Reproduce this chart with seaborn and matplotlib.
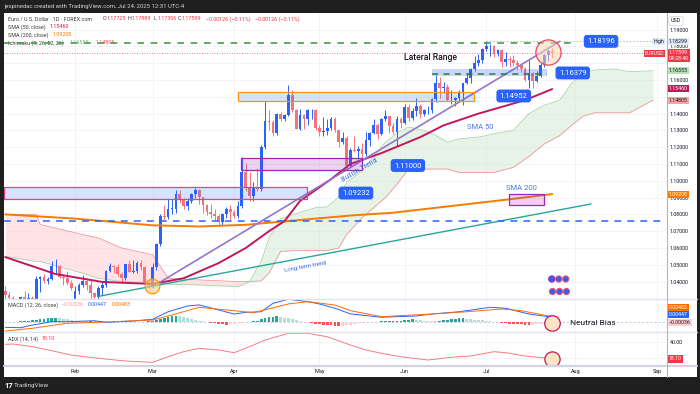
import numpy as np
import pandas as pd
import seaborn as sns
import matplotlib.pyplot as plt
from matplotlib.lines import Line2D
from matplotlib.patches import Rectangle

sns.set_theme(style="white")
plt.rcParams["font.family"] = ["Roboto", "DejaVu Sans"]

W, H = 700, 394

# EUR/USD daily candles, 2025-01-08 .. 2025-07-24 (weekdays)
opens = [1.0345, 1.0318, 1.0300, 1.0244, 1.0245, 1.0306, 1.0292, 1.0300, 1.0272, 1.0415, 1.0428, 1.0406, 1.0417, 1.0493, 1.0495, 1.0430, 1.0422, 1.0390,
         1.0245, 1.0345, 1.0379, 1.0403, 1.0380, 1.0330, 1.0307, 1.0362, 1.0378, 1.0466, 1.0492, 1.0484, 1.0446, 1.0421, 1.0503, 1.0459, 1.0465, 1.0513, 1.0485, 1.0398,
         1.0375, 1.0485, 1.0625, 1.0790, 1.0785, 1.0834, 1.0834, 1.0920, 1.0888, 1.0852, 1.0880, 1.0922, 1.0943, 1.0903, 1.0855, 1.0816, 1.0801, 1.0790, 1.0753, 1.0800, 1.0830,
         1.0815, 1.0792, 1.0852, 1.1050, 1.0960, 1.0910, 1.0957, 1.0950, 1.1200, 1.1356, 1.1348, 1.1285, 1.1400, 1.1370, 1.1390, 1.1510, 1.1420, 1.1310, 1.1390, 1.1365, 1.1420, 1.1422,
         1.1313, 1.1290, 1.1295, 1.1315, 1.1370, 1.1300, 1.1230, 1.1253, 1.1090, 1.1185, 1.1175, 1.1187, 1.1160, 1.1240, 1.1285, 1.1330, 1.1280, 1.1365, 1.1385, 1.1325, 1.1290, 1.1370,
         1.1347, 1.1440, 1.1372, 1.1418, 1.1445, 1.1397, 1.1420, 1.1423, 1.1485, 1.1585, 1.1550, 1.1560, 1.1480, 1.1480, 1.1490, 1.1522, 1.1580, 1.1610, 1.1665, 1.1700, 1.1718,
         1.1787, 1.1800, 1.1800, 1.1755, 1.1780, 1.1710, 1.1725, 1.1720, 1.1700, 1.1690, 1.1665, 1.1600, 1.1640, 1.1595, 1.1625, 1.1690, 1.1750, 1.17725]
highs = [1.0375, 1.0340, 1.0315, 1.0255, 1.0310, 1.0345, 1.0330, 1.0315, 1.0435, 1.0432, 1.0445, 1.0430, 1.0520, 1.0533, 1.0500, 1.0445, 1.0465, 1.0410,
         1.0375, 1.0390, 1.0442, 1.0410, 1.0410, 1.0335, 1.0375, 1.0400, 1.0470, 1.0513, 1.0500, 1.0505, 1.0460, 1.0506, 1.0528, 1.0528, 1.0520, 1.0530, 1.0490, 1.0410,
         1.0510, 1.0630, 1.0805, 1.0855, 1.0890, 1.0890, 1.0945, 1.0945, 1.0900, 1.0900, 1.0925, 1.0955, 1.0950, 1.0905, 1.0860, 1.0860, 1.0830, 1.0805, 1.0810, 1.0845, 1.0858,
         1.0825, 1.0880, 1.1144, 1.1107, 1.1050, 1.0990, 1.1075, 1.1215, 1.1475, 1.1420, 1.1360, 1.1405, 1.1410, 1.1395, 1.1573, 1.1540, 1.1425, 1.1425, 1.1395, 1.1425, 1.1425, 1.1425,
         1.1335, 1.1380, 1.1365, 1.1380, 1.1380, 1.1305, 1.1290, 1.1265, 1.1195, 1.1265, 1.1210, 1.1225, 1.1290, 1.1290, 1.1365, 1.1345, 1.1375, 1.1420, 1.1385, 1.1345, 1.1385, 1.1380,
         1.1455, 1.1455, 1.1435, 1.1495, 1.1455, 1.1430, 1.1445, 1.1495, 1.1630, 1.1615, 1.1590, 1.1575, 1.1540, 1.1500, 1.1540, 1.1585, 1.1640, 1.1670, 1.1745, 1.1755, 1.1790,
         1.1830, 1.1815, 1.1810, 1.1785, 1.1785, 1.1765, 1.1745, 1.1750, 1.1720, 1.1695, 1.1680, 1.1720, 1.1645, 1.1655, 1.1700, 1.1755, 1.1785, 1.17889]
lows = [1.0290, 1.0290, 1.0215, 1.0177, 1.0220, 1.0260, 1.0270, 1.0265, 1.0265, 1.0340, 1.0390, 1.0385, 1.0410, 1.0445, 1.0420, 1.0380, 1.0380, 1.0350,
        1.0141, 1.0325, 1.0365, 1.0350, 1.0285, 1.0285, 1.0280, 1.0320, 1.0365, 1.0455, 1.0450, 1.0435, 1.0400, 1.0410, 1.0455, 1.0450, 1.0450, 1.0470, 1.0390, 1.0360,
        1.0360, 1.0470, 1.0610, 1.0765, 1.0770, 1.0800, 1.0810, 1.0870, 1.0830, 1.0825, 1.0865, 1.0900, 1.0860, 1.0810, 1.0795, 1.0780, 1.0765, 1.0735, 1.0735, 1.0780, 1.0765,
        1.0780, 1.0780, 1.0840, 1.0940, 1.0880, 1.0880, 1.0940, 1.0940, 1.1190, 1.1300, 1.1265, 1.1270, 1.1355, 1.1355, 1.1385, 1.1410, 1.1310, 1.1305, 1.1310, 1.1330, 1.1370, 1.1300,
        1.1265, 1.1265, 1.1275, 1.1300, 1.1290, 1.1200, 1.1220, 1.1065, 1.1080, 1.1170, 1.1130, 1.1130, 1.1150, 1.1210, 1.1280, 1.1250, 1.1270, 1.1355, 1.1285, 1.1280, 1.1210, 1.1315,
        1.1340, 1.1355, 1.1360, 1.1385, 1.1375, 1.1385, 1.1395, 1.1405, 1.1470, 1.1490, 1.1525, 1.1475, 1.1460, 1.1445, 1.1470, 1.1450, 1.1575, 1.1585, 1.1655, 1.1685, 1.1700,
        1.1770, 1.1745, 1.1735, 1.1745, 1.1680, 1.1685, 1.1680, 1.1685, 1.1660, 1.1650, 1.1595, 1.1555, 1.1555, 1.1590, 1.1615, 1.1680, 1.1715, 1.17306]
closes = [1.0318, 1.0300, 1.0244, 1.0245, 1.0306, 1.0292, 1.0300, 1.0272, 1.0415, 1.0428, 1.0406, 1.0417, 1.0493, 1.0495, 1.0430, 1.0422, 1.0390, 1.0362,
          1.0345, 1.0379, 1.0403, 1.0380, 1.0330, 1.0307, 1.0362, 1.0378, 1.0466, 1.0492, 1.0484, 1.0446, 1.0421, 1.0503, 1.0459, 1.0465, 1.0513, 1.0485, 1.0398, 1.0375,
          1.0485, 1.0625, 1.0790, 1.0785, 1.0834, 1.0834, 1.0920, 1.0888, 1.0852, 1.0880, 1.0922, 1.0943, 1.0903, 1.0855, 1.0816, 1.0801, 1.0790, 1.0753, 1.0800, 1.0830, 1.0815,
          1.0792, 1.0852, 1.1050, 1.0960, 1.0910, 1.0957, 1.0950, 1.1200, 1.1356, 1.1348, 1.1285, 1.1400, 1.1370, 1.1390, 1.1510, 1.1420, 1.1310, 1.1390, 1.1365, 1.1420, 1.1422, 1.1313,
          1.1290, 1.1295, 1.1315, 1.1370, 1.1300, 1.1230, 1.1253, 1.1090, 1.1185, 1.1175, 1.1187, 1.1160, 1.1240, 1.1285, 1.1330, 1.1280, 1.1365, 1.1385, 1.1325, 1.1290, 1.1370, 1.1347,
          1.1440, 1.1372, 1.1418, 1.1445, 1.1397, 1.1420, 1.1423, 1.1485, 1.1585, 1.1550, 1.1560, 1.1480, 1.1480, 1.1490, 1.1522, 1.1580, 1.1610, 1.1665, 1.1700, 1.1718, 1.1787,
          1.1800, 1.1800, 1.1755, 1.1780, 1.1710, 1.1725, 1.1720, 1.1700, 1.1690, 1.1665, 1.1600, 1.1640, 1.1595, 1.1625, 1.1690, 1.1750, 1.1770, 1.17599]

# price axis ticks (1.15 and 1.17 sit under the colored tags)
price_ticks = [1.04, 1.05, 1.06, 1.07, 1.08, 1.09, 1.10, 1.11, 1.12, 1.13, 1.14, 1.15, 1.16, 1.17, 1.18, 1.19]
price_labels = ["1.04000", "1.05000", "1.06000", "1.07000", "1.08000", "1.09000", "1.10000", "1.11000", "1.12000",
                "1.13000", "1.14000", "", "1.16000", "", "1.18000", "1.19000"]

# moving averages (bar index, value)
sma50_idx = [0, 13, 25, 38, 46, 55, 62, 68, 72, 76, 84, 89, 97, 107, 113, 122, 134, 141]
sma50 = [1.0546, 1.0445, 1.0398, 1.0386, 1.0420, 1.0510, 1.0600, 1.0700, 1.0760, 1.0880, 1.1010, 1.1100, 1.1165, 1.1260, 1.1330, 1.1400, 1.1480, 1.1546]
sma200_idx = [0, 18, 38, 50, 62, 80, 90, 100, 115, 130, 141]
sma200 = [1.0800, 1.0775, 1.0735, 1.0728, 1.0738, 1.0775, 1.0795, 1.0810, 1.0850, 1.0890, 1.0921]

# ichimoku cloud (displaced 26 bars forward)
cloud_idx = [0, 8, 9, 20, 24, 30, 38, 42, 50, 60, 63, 66, 68, 71, 75, 80, 83, 86, 88, 92, 98, 101, 104, 108,
             111, 114, 117, 122, 126, 131, 135, 139, 143, 146, 149, 152, 157, 161, 167]
span_a = [1.0550, 1.0520, 1.0520, 1.0450, 1.0420, 1.0400, 1.0395, 1.0385, 1.0380, 1.0370, 1.0400, 1.0520, 1.0660,
          1.0775, 1.0805, 1.0840, 1.0845, 1.0905, 1.0990, 1.1060, 1.1230, 1.1285, 1.1320, 1.1300, 1.1270, 1.1230,
          1.1250, 1.1260, 1.1280, 1.1300, 1.1400, 1.1450, 1.1480, 1.1580, 1.1640, 1.1660, 1.1665, 1.1650, 1.1655]
span_b = [1.0800, 1.0800, 1.0740, 1.0680, 1.0660, 1.0600, 1.0560, 1.0420, 1.0410, 1.0400, 1.0400, 1.0405, 1.0450,
          1.0580, 1.0585, 1.0585, 1.0585, 1.0600, 1.0680, 1.0780, 1.0900, 1.0980, 1.1070, 1.1070, 1.1070, 1.1070,
          1.1050, 1.1050, 1.1050, 1.1080, 1.1145, 1.1220, 1.1270, 1.1330, 1.1385, 1.1405, 1.1405, 1.1405, 1.1480]

# MACD (12, 26) panel
macd_idx = [0, 4, 7, 12, 16, 23, 26, 33, 38, 42, 47, 50, 55, 59, 62, 66, 69, 73, 78, 81, 85, 89, 97, 106, 110, 117, 125, 129, 135, 140, 141]
macd_line = [-0.0047, -0.0050, -0.0028, 0.0000, 0.0000, 0.0008, -0.0005, 0.0006, 0.0020, 0.0083, 0.0131, 0.0140, 0.0098, 0.0064, 0.0078,
             0.0083, 0.0153, 0.0187, 0.0167, 0.0148, 0.0112, 0.0065, 0.0037, 0.0048, 0.0064, 0.0083, 0.0120, 0.0112, 0.0064, 0.0042, 0.00447]
signal_idx = [0, 7, 16, 24, 38, 43, 50, 57, 64, 73, 78, 85, 89, 97, 110, 119, 128, 133, 140, 141]
signal_line = [-0.0078, -0.0055, -0.0013, -0.0005, 0.0014, 0.0056, 0.0120, 0.0098, 0.0075, 0.0148, 0.0167, 0.0139, 0.0092, 0.0042,
               0.0064, 0.0083, 0.0106, 0.0092, 0.0048, 0.00483]
macd_hist = [-2, -3, -2, -1,
             2, 5, 8, 12, 15, 20, 25, 28, 30,
             32, 30, 26, 20, 15,
             10, 8, 6, 5, 6, 4, 3, 2,
             -2, -3, -2, 1, 3, 4, 2, -1, -3, -4, -2, 2,
             8, 15, 25, 35, 42, 48, 50, 45, 40, 30, 25,
             18, 10, 5, -3, -8, -10,
             -15, -20, -25, -22, -18, -12, -8, -5,
             -2, 3, 10, 20, 30,
             38, 42, 45, 40, 35, 30, 25, 15, 8,
             0, -5, -10, -15, -20, -25, -28,
             -31, -34, -36, -35, -30, -24, -18,
             -12, -8, -5, -3, -1, 1, 2, 3, 4,
             5, 6, 8, 12, 16, 20, 18, 14, 10, 8, 6, 5, 8,
             12, 16, 20, 24, 27, 28, 26, 22, 18, 15, 12, 8,
             4, 0, -4, -8, -12, -15, -18, -20,
             -22, -25, -26, -25, -22, -18, -12, -7, -4]  # x 1e-4

# ADX (14, 14)
adx_idx = [0, 2, 7, 12, 17, 24, 31, 38, 42, 46, 50, 55, 59, 63, 67, 73, 78, 83, 89, 93, 97, 102, 109, 115, 120, 126, 129, 134, 140, 141]
adx = [37.0, 37.4, 34.0, 28.8, 23.2, 19.0, 15.5, 13.8, 21.0, 27.5, 31.9, 29.7, 26.2, 34.0, 42.6, 51.2, 51.2, 46.8, 36.1, 29.7,
       25.4, 21.0, 16.8, 20.3, 22.0, 27.5, 26.2, 22.0, 19.0, 18.1]

UP, DOWN = "#2962ff", "#f6717a"
GRID = "#f0f3fa"


def fx(x):
    return x / W


def fy(y):
    return 1 - y / H


fig = plt.figure(figsize=(7, 3.94), dpi=100, facecolor="#1f1f1f")
fig.patches.append(Rectangle((fx(4), fy(377)), fx(697) - fx(4), fy(13) - fy(377),
                             transform=fig.transFigure, fc="white", ec="none", zorder=-1))

ax = fig.add_axes([fx(4), fy(299), fx(666) - fx(4), (299 - 13) / H])
ax_m = fig.add_axes([fx(4), fy(332), fx(666) - fx(4), (332 - 299) / H], sharex=ax)
ax_a = fig.add_axes([fx(4), fy(365), fx(666) - fx(4), (365 - 332) / H], sharex=ax)

dates = pd.bdate_range("2025-01-08", periods=172)
month_pos = [i for i in range(1, len(dates)) if dates[i].month != dates[i - 1].month]
month_lab = [dates[i].strftime("%b") for i in month_pos]

for a in (ax, ax_m, ax_a):
    a.set_facecolor("white")
    for s in a.spines.values():
        s.set_visible(False)
    a.set_xticks(month_pos)
    a.grid(True, color=GRID, lw=0.6)
    a.set_axisbelow(True)
    a.yaxis.tick_right()
    a.tick_params(axis="both", length=0, labelsize=3.9, labelcolor="#131722", pad=2.6)
    a.set_xlabel("")
    a.set_ylabel("")

ax.set_xlim(-0.31, 170.34)
ax.set_ylim(1.16 - 219 / 1680, 1.16 + 67 / 1680)
ax.set_yticks(price_ticks)
ax.set_yticklabels(price_labels)
ax.tick_params(axis="x", labelbottom=False)

# ---- ichimoku cloud
ci = np.array(cloud_idx, float)
sa, sb = np.array(span_a), np.array(span_b)
ax.fill_between(ci, sa, sb, where=sa >= sb, interpolate=True, color="#c8e6c9", alpha=0.45, lw=0, zorder=1)
ax.fill_between(ci, sa, sb, where=sa < sb, interpolate=True, color="#ffcdd2", alpha=0.55, lw=0, zorder=1)
ax.plot(ci, sa, color="#a5d6a7", lw=0.6, zorder=1.2)
ax.plot(ci, sb, color="#ef9a9a", lw=0.6, zorder=1.2)

# ---- candles
o, h, l, c = map(np.array, (opens, highs, lows, closes))
xi = np.arange(len(c))
col = np.where(c >= o, UP, DOWN)
ax.vlines(xi, l, h, colors=col, lw=0.7, zorder=3)
ax.bar(xi, np.maximum(np.abs(c - o), 0.00025), bottom=np.minimum(o, c), width=0.7, color=col, lw=0, zorder=3)

# ---- moving averages & trend lines
sns.lineplot(x=sma200_idx, y=sma200, ax=ax, color="#f57c00", lw=1.4, zorder=4)
sns.lineplot(x=sma50_idx, y=sma50, ax=ax, color="#c2185b", lw=1.4, zorder=4)
ax.plot([38, 143], [1.0370, 1.1830], color="#9575cd", lw=1.2, zorder=4)
ax.plot([24, 151], [1.0312, 1.0862], color="#26a69a", lw=1.0, zorder=4)
ax.set_xlabel("")
ax.set_ylabel("")

# ---- horizontal levels
ax.plot([-0.31, 170.34], [1.0760, 1.0760], color="#2962ff", lw=1.1, dashes=(4.5, 4), zorder=4)
ax.plot([-0.31, 147], [1.18196, 1.18196], color="#43a047", lw=1.2, dashes=(4, 4), zorder=5)
ax.plot([110, 139.6], [1.16379, 1.16379], color="#2e7d32", lw=1.1, dashes=(4, 3.5), zorder=5)
ax.axhline(1.17599, color="#f7525f", lw=0.6, ls=(0, (1, 2)), zorder=4)
ax.plot([124, 170.34], [1.18299, 1.18299], color="#b2b5be", lw=0.6, ls=(0, (2, 2)), zorder=4)

# ---- zones
def zone(x0, x1, y0, y1, fc, ec):
    ax.add_patch(Rectangle((x0, y0), x1 - x0, y1 - y0, fc=fc, ec=ec, lw=0.9, zorder=4.5))


zone(-0.3, 77.8, 1.0892, 1.0963, (0.16, 0.38, 1.0, 0.18), "#e0457b")
zone(60.8, 91.9, 1.1066, 1.1134, (0.61, 0.15, 0.69, 0.2), "#9c27b0")
zone(60.0, 120.9, 1.1475, 1.1530, (0.16, 0.38, 1.0, 0.18), "#ff9800")
zone(110.0, 139.6, 1.1624, 1.1664, (0.16, 0.38, 1.0, 0.25), "none")
zone(129.8, 138.9, 1.0856, 1.0921, (0.61, 0.15, 0.69, 0.2), "#9c27b0")

# ---- circles
ax.scatter([37.9], [1.0374], s=110, fc=(1.0, 0.8, 0.5, 0.6), ec="#ff9800", lw=0.9, zorder=6)
ax.scatter([139.9], [1.1767], s=330, fc=(0.99, 0.84, 0.7, 0.55), ec="#e5486a", lw=0.9, zorder=6)
ax.scatter([140.9, 142.7, 144.5], [1.04155] * 3, s=20, fc=UP, ec=["#9c27b0", "#f7525f", "#f7525f"], lw=0.8, zorder=6)
ax.scatter([140.9, 142.7, 144.5], [1.03444] * 3, s=20, fc=UP, ec="#f7525f", lw=0.8, zorder=6)

# ---- price tags on chart
for xv, yv, t in [(153.6, 1.1830, "1.18196"), (146.3, 1.1642, "1.16379"), (131.1, 1.1505, "1.14952"),
                  (103.8, 1.1091, "1.11000"), (90.4, 1.0927, "1.09232")]:
    ax.text(xv, yv, t, ha="center", va="center", fontsize=5.5, color="white", zorder=8,
            bbox=dict(boxstyle="round,pad=0.45,rounding_size=0.4", fc="#2962ff", ec="none"))

ax.text(109.7, 1.1734, "Lateral Range", ha="center", va="center", fontsize=6.2, color="#131722", weight="medium", zorder=8)
ax.text(122.4, 1.1320, "SMA 50", ha="center", va="center", fontsize=5.5, color="#4a7bd9", zorder=8)
ax.text(133.2, 1.0960, "SMA 200", ha="center", va="center", fontsize=5.5, color="#4a7bd9", zorder=8)
ax.text(91.5, 1.1062, "Bullish Trend", ha="center", va="center", fontsize=5, color="#3d6be0",
        rotation=30.6, rotation_mode="anchor", zorder=8)
ax.text(77.3, 1.0487, "Long term trend", ha="center", va="center", fontsize=4.3, color="#3d6be0",
        rotation=10.5, rotation_mode="anchor", zorder=8)

# ---- right axis tags
def tag(a, y, t, bg, fg="white", x=1.004, ha="left", va="center"):
    a.text(x, y, t, transform=a.get_yaxis_transform(), ha=ha, va=va, fontsize=3.8, color=fg,
           zorder=10, clip_on=False, linespacing=1.2,
           bbox=dict(boxstyle="square,pad=0.2", fc=bg, ec="none"))


tag(ax, 1.18299, "1.18299", "#dfe8f7", "#131722")
tag(ax, 1.18299, "High", "#dfe8f7", "#131722", x=0.9975, ha="right")
tag(ax, 1.17599, "EURUSD", "#f23645", x=0.9975, ha="right")
tag(ax, 1.1780, "1.17599\n04:28:40", "#f23645", va="top")
tag(ax, 1.16555, "1.16555", "#b7e0b2", "#131722")
tag(ax, 1.15490, "1.15460", "#c2185b")
tag(ax, 1.14790, "1.14805", "#f4a6a6", "#131722")
tag(ax, 1.09208, "1.09208", "#f57c00")

# ---- MACD panel
ax_m.set_ylim((321.7 - 332) / 1200, (321.7 - 299) / 1200)
ax_m.set_yticks([])
ax_m.tick_params(axis="x", labelbottom=False)
hist = np.array(macd_hist) * 1e-4
prev = np.r_[hist[0], hist[:-1]]
hcol = np.where(hist >= 0, np.where(hist >= prev, "#26a69a", "#b2dfdb"),
                np.where(hist < prev, "#ff5252", "#ffcdd2"))
ax_m.bar(np.arange(len(hist)), hist, width=0.7, color=hcol, lw=0, zorder=2)
ax_m.axhline(0, color="#b2b5be", lw=0.5, ls=(0, (3, 3)), zorder=1)
sns.lineplot(x=macd_idx, y=macd_line, ax=ax_m, color="#2962ff", lw=0.7, zorder=3)
sns.lineplot(x=signal_idx, y=signal_line, ax=ax_m, color="#ff6d00", lw=0.7, zorder=3)
ax_m.scatter([140.9], [-0.0011], s=125, fc="#fde4c4", ec="#c2185b", lw=0.9, zorder=6)
ax_m.text(145.5, -0.0011, "Neutral Bias", ha="left", va="center", fontsize=6, color="#131722", zorder=8)
ax_m.set_xlabel("")
ax_m.set_ylabel("")
tag(ax_m, 0.0120, "0.00483", "#ff6d00")
tag(ax_m, 0.0058, "0.00447", "#2962ff")
tag(ax_m, -0.0005, "\u22120.00036", "#ffcdd2", "#131722")

# ---- ADX panel
ax_a.set_ylim(40 - 23 / 0.776, 40 + 10 / 0.776)
ax_a.set_yticks([20, 40])
ax_a.set_yticklabels(["", "40.00"])
sns.lineplot(x=adx_idx, y=adx, ax=ax_a, color="#f77c80", lw=0.7, zorder=3)
ax_a.scatter([140.9], [18.1], s=120, fc="#fde4c4", ec="#c2185b", lw=0.9, zorder=6)
ax_a.set_xticks(month_pos)
ax_a.set_xticklabels(month_lab)
ax_a.tick_params(axis="x", labelsize=4, labelcolor="#131722", pad=3)
ax_a.set_xlabel("")
ax_a.set_ylabel("")
tag(ax_a, 18.1, "18.10", "#f23645")

# ---- legends / headers
GR, RD = "#3b3b3b", "#f23645"
fig.text(fx(4), fy(6.5), "jespinedac created with TradingView.com, Jul 24, 2025 12:31 UTC-4",
         fontsize=4.3, color="#d1d4dc", va="center")


def hdr(x, y, t, colr, a=ax, z=9):
    a.text(fx(x), fy(y), t, transform=fig.transFigure, fontsize=3.9, color=colr, va="center", zorder=z)


hdr(8, 19, "Euro / U.S. Dollar \u00b7 1D \u00b7 FOREX.com", GR)
for xx, lab, val in [(103, "O", "1.17725"), (128, "H", "1.17889"), (154, "L", "1.17306"), (178, "C", "1.17599")]:
    hdr(xx, 19, lab, GR)
    hdr(xx + 3.5, 19, val, RD)
hdr(206, 19, "\u22120.00126 (\u22120.11%)", RD)
hdr(255, 19, "\u22120.00126 (\u22120.11%)", RD)
hdr(8, 27, "SMA (50, close)", GR)
hdr(50, 27, "1.15460", "#c2185b")
hdr(8, 35, "SMA (200, close)", GR)
hdr(53, 35, "1.09208", "#f57c00")
hdr(8, 43, "Ichimoku (9, 26, 52, 26)", GR, z=2)
hdr(70, 43, "1.16555", "#66bb6a", z=2)
hdr(96, 43, "1.14805", "#ef5350", z=2)
hdr(8, 305, "MACD (12, 26, close)", GR, a=ax_m)
hdr(62, 305, "\u22120.00036", "#f7a0a6", a=ax_m)
hdr(88, 305, "0.00447", "#2962ff", a=ax_m)
hdr(112, 305, "0.00483", "#ff6d00", a=ax_m)
hdr(8, 339, "ADX (14, 14)", GR, a=ax_a)
hdr(42, 339, "18.10", RD, a=ax_a)

fig.text(fx(676), fy(21), "USD", fontsize=3.9, color="#131722", ha="center", va="center",
         bbox=dict(boxstyle="round,pad=0.35,rounding_size=0.3", fc="white", ec="#d1d4dc", lw=0.5))

# separators
for yy, cc, ww in [(299, "#e0e3eb", 1.0), (332, "#e0e3eb", 1.0), (365.5, "#d1d4dc", 1.6)]:
    fig.lines.append(Line2D([fx(4), fx(697)], [fy(yy), fy(yy)], transform=fig.transFigure, color=cc, lw=ww))
fig.lines.append(Line2D([fx(666.5), fx(666.5)], [fy(13), fy(377)], transform=fig.transFigure, color="#b2b5be", lw=0.8))

fig.text(fx(4), fy(386), "17", fontsize=5.5, color="white", weight="bold", va="center")
fig.text(fx(14), fy(386), "TradingView", fontsize=4.6, color="#d1d4dc", va="center")

fig.savefig("out.png", dpi=100, facecolor=fig.get_facecolor())
